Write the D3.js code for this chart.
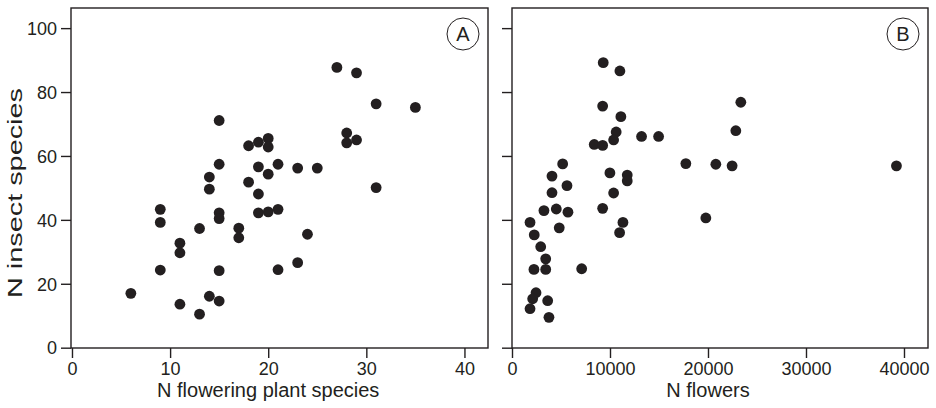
<!DOCTYPE html>
<html>
<head>
<meta charset="utf-8">
<script src="https://cdn.jsdelivr.net/npm/d3@7"></script>
<style>
  html, body { margin: 0; padding: 0; background: #fff; }
  svg { display: block; }
  text { font-family: "Liberation Sans", Arial, Helvetica, sans-serif; fill: #231f20; }
</style>
</head>
<body>
<svg id="chart" width="936" height="408"></svg>
<script>
// ---- data ----
const plantSpecies = [6,9,9,9,11,11,11,13,13,14,14,14,15,15,15,15,15,15,17,17,18,18,19,19,19,19,20,20,20,20,21,21,21,23,23,24,25,27,28,28,29,29,31,31,35];
const insectA = [17.0,43.3,39.2,24.3,32.7,29.7,13.6,37.3,10.5,53.4,49.6,16.1,71.1,57.4,42.2,40.4,24.1,14.6,37.4,34.4,63.2,51.8,64.3,56.6,48.1,42.2,65.5,62.8,54.3,42.5,57.4,43.3,24.4,56.2,26.6,35.5,56.2,87.7,67.2,64.1,86.0,65.0,76.3,50.1,75.2];

const flowers = [9310,11010,9250,11110,10630,10370,13220,14960,8390,9250,17740,5170,4080,9990,11760,11760,5610,4080,10370,3260,4520,5710,9250,1840,11320,10980,2270,4820,2930,3440,2240,3440,7110,2450,2110,1840,3640,3770,23350,22840,20800,22460,19780,39230];
const insectB = [89.2,86.6,75.6,72.3,67.5,65.0,66.1,66.1,63.6,63.3,57.6,57.5,53.7,54.7,54.0,52.2,50.7,48.5,48.4,42.9,43.4,42.4,43.6,39.2,39.2,36.0,35.3,37.5,31.6,27.8,24.5,24.5,24.7,17.2,15.3,12.2,14.7,9.5,76.8,67.9,57.4,56.9,40.6,56.9];

const yTicks = [0,20,40,60,80,100];
const xTicksA = [0,10,20,30,40];
const xTicksB = [0,10000,20000,30000,40000];
const xLimA = [-0.1, 42.4];
const xLimB = [0, 42450];
const yLim = [-0.1, 106.3];

const panelLabels = ["A", "B"];
const xTitles = ["N flowering plant species", "N flowers"];
const yTitle = "N insect species";

// ---- drawing ----
const ink = "#231f20";
const svg = d3.select("#chart");

const y = d3.scaleLinear().domain(yLim).range([348, 8]);

const panels = [
  { x: d3.scaleLinear().domain(xLimA).range([71, 488]), xs: plantSpecies, ys: insectA, ticks: xTicksA, label: panelLabels[0], title: xTitles[0], yLabels: true },
  { x: d3.scaleLinear().domain(xLimB).range([512, 928]), xs: flowers, ys: insectB, ticks: xTicksB, label: panelLabels[1], title: xTitles[1], yLabels: false }
];

panels.forEach(p => {
  const g = svg.append("g");
  const [x0, x1] = p.x.range();
  const [y0, y1] = y.range();

  // x axis
  const xa = g.append("g").attr("transform", `translate(0,${y0})`)
    .call(d3.axisBottom(p.x).tickValues(p.ticks).tickSize(10).tickPadding(4).tickFormat(d3.format("d")));
  xa.select(".domain").remove();
  xa.selectAll("line").attr("stroke", ink).attr("stroke-width", 1.4);
  xa.selectAll("text").style("font-size", "18px").attr("fill", ink);

  // y axis
  const ya = g.append("g").attr("transform", `translate(${x0},0)`)
    .call(d3.axisLeft(y).tickValues(yTicks).tickSize(10).tickPadding(4).tickFormat(p.yLabels ? d3.format("d") : ""));
  ya.select(".domain").remove();
  ya.selectAll("line").attr("stroke", ink).attr("stroke-width", 1.4);
  ya.selectAll("text").style("font-size", "18px").attr("fill", ink).attr("dy", "0.35em");

  // frame
  g.append("rect").attr("x", x0).attr("y", y1).attr("width", x1 - x0).attr("height", y0 - y1)
    .attr("fill", "none").attr("stroke", ink).attr("stroke-width", 1.4);

  // points
  g.selectAll("circle.pt").data(p.xs.map((v, i) => [v, p.ys[i]])).enter()
    .append("circle").attr("class", "pt")
    .attr("cx", d => p.x(d[0])).attr("cy", d => y(d[1])).attr("r", 5.4)
    .attr("fill", ink);

  // panel label
  const cx = x1 - 25, cy = y1 + 26;
  g.append("circle").attr("cx", cx).attr("cy", cy).attr("r", 16)
    .attr("fill", "none").attr("stroke", ink).attr("stroke-width", 1);
  g.append("text").attr("x", cx).attr("y", cy).attr("dy", "0.36em")
    .attr("text-anchor", "middle").style("font-size", "20px").text(p.label);

  // x title
  g.append("text").attr("x", (p.x(p.ticks[0]) + p.x(p.ticks[p.ticks.length - 1])) / 2).attr("y", 397)
    .attr("text-anchor", "middle").style("font-size", "20px").text(p.title);
});

// y title
svg.append("text").attr("transform", `translate(22,193) rotate(-90)`)
  .attr("text-anchor", "middle").style("font-size", "20px")
  .attr("textLength", 210).attr("lengthAdjust", "spacingAndGlyphs")
  .text(yTitle);
</script>
</body>
</html>
